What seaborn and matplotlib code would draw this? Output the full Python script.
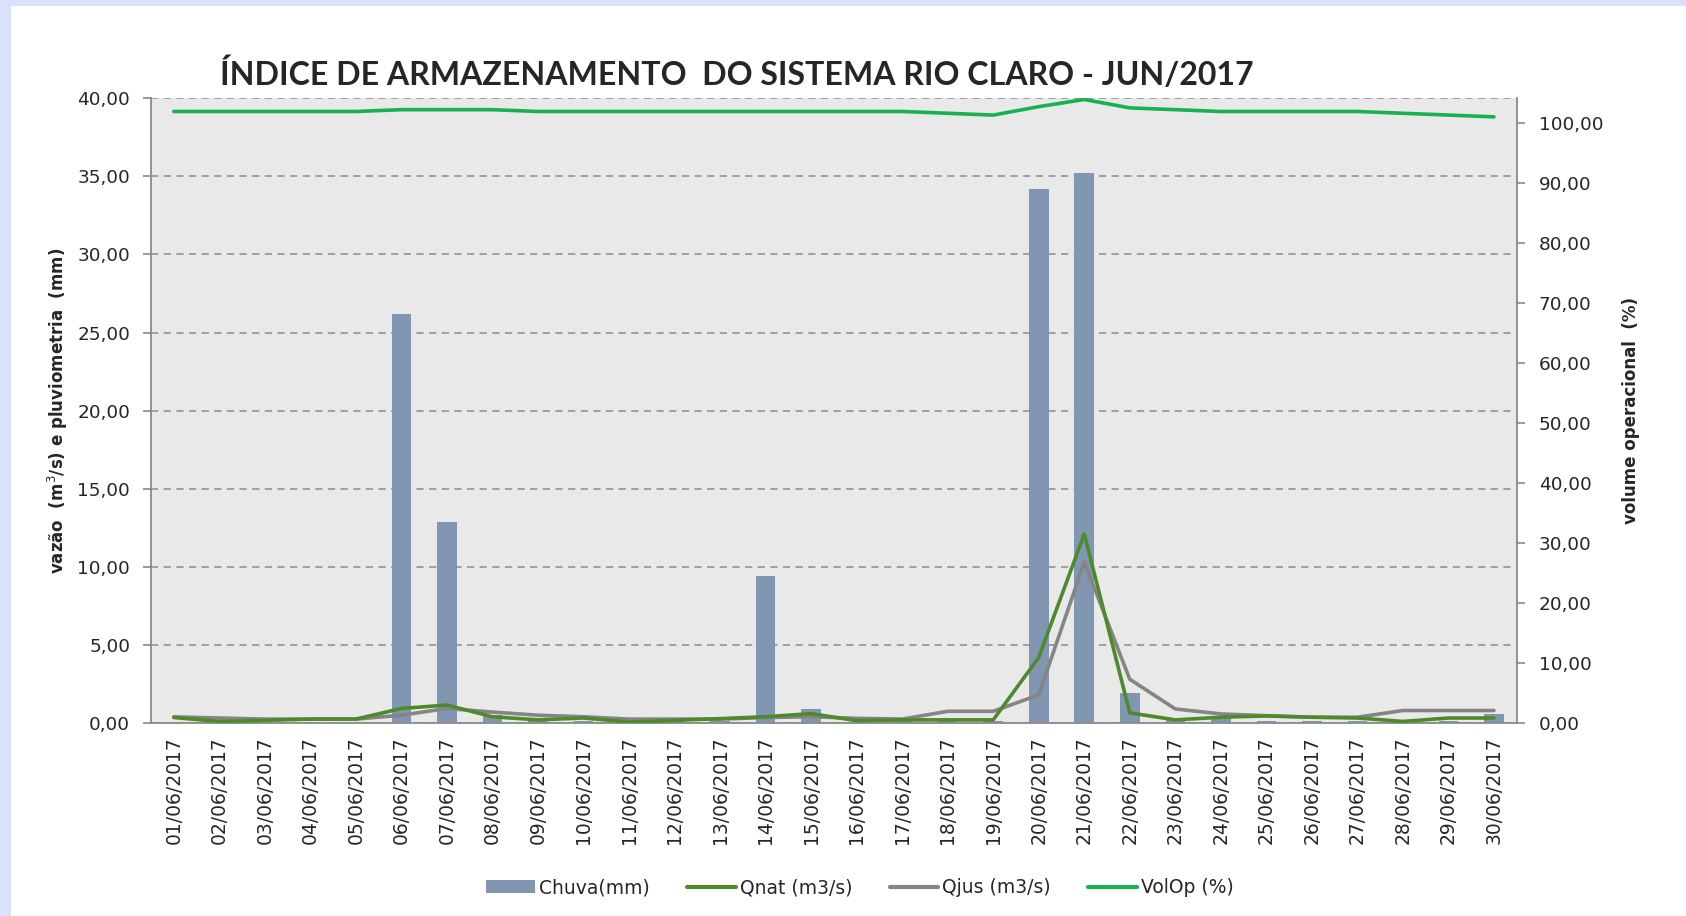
import numpy as np
import pandas as pd
import matplotlib
matplotlib.use("Agg")
import matplotlib.pyplot as plt
import matplotlib.patches as mpatches
from matplotlib.lines import Line2D
import seaborn as sns

# dados do gráfico
dias = [f"{d:02d}/06/2017" for d in range(1, 31)]
chuva = [0, 0, 0, 0, 0, 26.2, 12.9, 0.5, 0.2, 0.1, 0, 0.15, 0.15, 9.4, 0.9,
         0, 0.2, 0.1, 0.1, 34.2, 35.2, 1.9, 0.2, 0.45, 0.1, 0.1, 0.1, 0, 0.1, 0.55]
qnat = [0.35, 0.1, 0.17, 0.25, 0.25, 0.93, 1.15, 0.4, 0.2, 0.32, 0.06, 0.17, 0.28, 0.4, 0.6,
        0.15, 0.2, 0.2, 0.2, 4.2, 12.1, 0.65, 0.2, 0.37, 0.45, 0.37, 0.32, 0.1, 0.32, 0.32]
qjus = [0.39, 0.32, 0.25, 0.25, 0.25, 0.5, 0.93, 0.7, 0.5, 0.4, 0.25, 0.25, 0.25, 0.35, 0.4,
        0.3, 0.25, 0.75, 0.75, 1.8, 10.3, 2.8, 0.9, 0.58, 0.47, 0.37, 0.37, 0.8, 0.8, 0.8]
volop = [102.0, 102.0, 102.0, 102.0, 102.0, 102.3, 102.3, 102.3, 102.0, 102.0, 102.0, 102.0,
         102.0, 102.0, 102.0, 102.0, 102.0, 101.7, 101.4, 102.8, 104.0, 102.6, 102.3, 102.0,
         102.0, 102.0, 102.0, 101.7, 101.4, 101.1]

df = pd.DataFrame({"Dia": dias, "Chuva": chuva, "Qnat": qnat, "Qjus": qjus, "VolOp": volop})
df["pos"] = np.arange(len(df))

cor_chuva = "#8196b1"
cor_qnat = "#4e8a2c"
cor_qjus = "#858585"
cor_vol = "#17b24f"
cor_eixo = "#8a8a8a"

sns.set_theme(style="white")
plt.rcParams["font.family"] = ["DejaVu Sans"]

fig = plt.figure(figsize=(16.86, 9.16), dpi=100)
# moldura azul clara (topo e esquerda)
fig.patches.append(mpatches.Rectangle((0, 0), 1, 1, transform=fig.transFigure,
                                      facecolor="#dbe1fb", edgecolor="none", zorder=-2))
fig.patches.append(mpatches.Rectangle((0.0065, 0), 0.9935, 0.9935, transform=fig.transFigure,
                                      facecolor="white", edgecolor="none", zorder=-1))

ax = fig.add_axes([0.0896, 0.2107, 0.810, 0.682])
ax.set_facecolor("#e9e9e9")

sns.barplot(data=df, x="pos", y="Chuva", color=cor_chuva, width=0.43,
            saturation=1, linewidth=0, ax=ax, zorder=2)
sns.lineplot(data=df, x="pos", y="Qnat", color=cor_qnat, lw=2.6, ax=ax, zorder=4)
sns.lineplot(data=df, x="pos", y="Qjus", color=cor_qjus, lw=2.6, ax=ax, zorder=3)

ax.set_xlim(-0.5, len(df) - 0.5)
ax.set_ylim(0, 40)
ax.set_yticks(np.arange(0, 41, 5))
ax.set_yticklabels([f"{v:.2f}".replace(".", ",") for v in np.arange(0, 41, 5)], fontsize=13.3)
ax.yaxis.grid(True, color="#9a9a9a", linestyle=(0, (4, 3)), linewidth=1.3)
ax.set_axisbelow(True)

ax.set_xticks(df["pos"])
ax.set_xticklabels(dias, rotation=90, fontsize=13.5)
ax.set_xticks(np.arange(-0.5, len(df), 1), minor=True)
ax.tick_params(axis="x", which="major", length=0, pad=9.5)
ax.tick_params(axis="x", which="minor", length=6, color=cor_eixo, width=1.2, direction="out")
ax.tick_params(axis="y", length=6, color=cor_eixo, width=1.2, direction="out", left=True, pad=9)
ax.set_xlabel("")
ax.set_ylabel("vazão  (m$^3$/s) e pluviometria  (mm)", fontsize=12, fontweight="bold")
ax.yaxis.set_label_coords(-0.059, 0.5)

for s in ax.spines.values():
    s.set_visible(False)
for lado in ["left", "bottom"]:
    ax.spines[lado].set_visible(True)
    ax.spines[lado].set_color(cor_eixo)
    ax.spines[lado].set_linewidth(1.3)

ax2 = ax.twinx()
sns.lineplot(data=df, x="pos", y="VolOp", color=cor_vol, lw=2.6, ax=ax2)
ax2.set_ylim(0, 104.2)
ax2.set_yticks(np.arange(0, 101, 10))
ax2.set_yticklabels([f"{v:.2f}".replace(".", ",") for v in np.arange(0, 101, 10)], fontsize=13.3)
ax2.tick_params(axis="y", length=6, color=cor_eixo, width=1.2, direction="out", right=True, pad=10)
ax2.set_ylabel("volume operacional  (%)", fontsize=12, fontweight="bold")
ax2.yaxis.set_label_coords(1.077, 0.5)
for s in ax2.spines.values():
    s.set_visible(False)
ax2.spines["right"].set_visible(True)
ax2.spines["right"].set_color(cor_eixo)
ax2.spines["right"].set_linewidth(1.3)
ax2.set_xlabel("")

fig.text(0.1306, 0.907, "ÍNDICE DE ARMAZENAMENTO  DO SISTEMA RIO CLARO - JUN/2017",
         fontsize=23.1, fontweight="bold", family=["Lato", "DejaVu Sans"],
         ha="left", va="baseline")

handles = [
    mpatches.Patch(facecolor=cor_chuva, edgecolor="none", label="Chuva(mm)"),
    Line2D([], [], color=cor_qnat, lw=3, label="Qnat (m3/s)"),
    Line2D([], [], color=cor_qjus, lw=3, label="Qjus (m3/s)"),
    Line2D([], [], color=cor_vol, lw=3, label="VolOp (%)"),
]
fig.legend(handles=handles, loc="center", bbox_to_anchor=(0.51, 0.031), ncol=4, frameon=False,
           fontsize=13.5, handlelength=2.6, handletextpad=0.2, columnspacing=2.0)

fig.savefig("out.png", dpi=100)
